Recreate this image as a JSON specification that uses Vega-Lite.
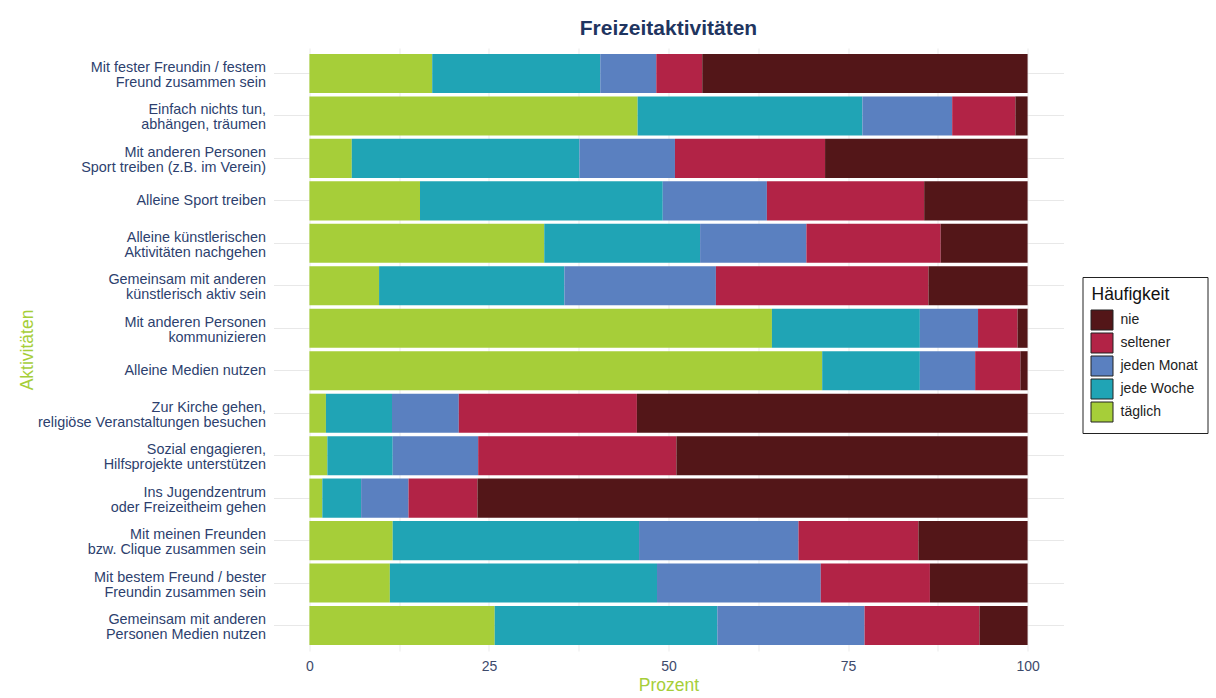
{
  "$schema": "https://vega.github.io/schema/vega-lite/v6.json",
  "width": 790,
  "height": 603,
  "padding": {"left": 18.5, "top": 18, "right": 5, "bottom": 0},
  "background": "white",
  "title": {"text": "Freizeitaktivitäten", "anchor": "middle", "frame": "group", "fontSize": 21, "font": "Liberation Sans", "fontWeight": "bold", "color": "#1f3560", "offset": 9},
  "config": {"view": {"stroke": null}, "font": "Liberation Sans"},
  "data": {"values": [
    {"a": "Mit fester Freundin / festem|Freund zusammen sein", "täglich": 17.1, "jede Woche": 23.4, "jeden Monat": 7.8, "seltener": 6.4, "nie": 45.3},
    {"a": "Einfach nichts tun,|abhängen, träumen", "täglich": 45.7, "jede Woche": 31.3, "jeden Monat": 12.5, "seltener": 8.8, "nie": 1.7},
    {"a": "Mit anderen Personen|Sport treiben (z.B. im Verein)", "täglich": 5.9, "jede Woche": 31.7, "jeden Monat": 13.3, "seltener": 20.9, "nie": 28.2},
    {"a": "Alleine Sport treiben", "täglich": 15.4, "jede Woche": 33.8, "jeden Monat": 14.5, "seltener": 21.9, "nie": 14.4},
    {"a": "Alleine künstlerischen|Aktivitäten nachgehen", "täglich": 32.7, "jede Woche": 21.7, "jeden Monat": 14.8, "seltener": 18.7, "nie": 12.1},
    {"a": "Gemeinsam mit anderen|künstlerisch aktiv sein", "täglich": 9.7, "jede Woche": 25.8, "jeden Monat": 21.1, "seltener": 29.6, "nie": 13.8},
    {"a": "Mit anderen Personen|kommunizieren", "täglich": 64.4, "jede Woche": 20.6, "jeden Monat": 8.1, "seltener": 5.5, "nie": 1.4},
    {"a": "Alleine Medien nutzen", "täglich": 71.4, "jede Woche": 13.6, "jeden Monat": 7.7, "seltener": 6.3, "nie": 1.0},
    {"a": "Zur Kirche gehen,|religiöse Veranstaltungen besuchen", "täglich": 2.3, "jede Woche": 9.2, "jeden Monat": 9.3, "seltener": 24.8, "nie": 54.4},
    {"a": "Sozial engagieren,|Hilfsprojekte unterstützen", "täglich": 2.5, "jede Woche": 9.1, "jeden Monat": 11.9, "seltener": 27.6, "nie": 48.9},
    {"a": "Ins Jugendzentrum|oder Freizeitheim gehen", "täglich": 1.8, "jede Woche": 5.4, "jeden Monat": 6.6, "seltener": 9.6, "nie": 76.6},
    {"a": "Mit meinen Freunden|bzw. Clique zusammen sein", "täglich": 11.6, "jede Woche": 34.3, "jeden Monat": 22.2, "seltener": 16.7, "nie": 15.2},
    {"a": "Mit bestem Freund / bester|Freundin zusammen sein", "täglich": 11.2, "jede Woche": 37.2, "jeden Monat": 22.8, "seltener": 15.2, "nie": 13.6},
    {"a": "Gemeinsam mit anderen|Personen Medien nutzen", "täglich": 25.8, "jede Woche": 31.0, "jeden Monat": 20.5, "seltener": 16.0, "nie": 6.7}
  ]},
  "transform": [
    {"fold": ["täglich", "jede Woche", "jeden Monat", "seltener", "nie"], "as": ["Häufigkeit", "Prozent"]},
    {"calculate": "indexof(['täglich','jede Woche','jeden Monat','seltener','nie'], datum['Häufigkeit'])", "as": "ord"}
  ],
  "mark": {"type": "bar", "stroke": null},
  "encoding": {
    "y": {
      "field": "a", "type": "nominal", "sort": null,
      "scale": {"paddingInner": 0.08, "paddingOuter": 0.14},
      "axis": {
        "title": "Aktivitäten", "titleColor": "#a6ce39", "titleFontSize": 17.5, "titleFontWeight": "normal", "titlePadding": 37,
        "labelExpr": "split(datum.label, '|')", "labelFontSize": 14.4, "labelColor": "#2d3f6e", "labelLineHeight": 15,
        "labelOffset": {"condition": {"test": "indexof(datum.value, '|') >= 0", "value": -5.5}, "value": 0},
        "labelPadding": 8, "ticks": false, "domain": false, "grid": true, "gridColor": "#e8e8e8", "gridWidth": 1.2,
        "bandPosition": 0.5, "labelLimit": 400
      }
    },
    "x": {
      "field": "Prozent", "type": "quantitative", "stack": "zero",
      "scale": {"domain": [-5, 105], "nice": false, "zero": false},
      "axis": {
        "title": "Prozent", "titleColor": "#a6ce39", "titleFontSize": 17.5, "titleFontWeight": "normal", "titlePadding": 3,
        "values": [0, 12.5, 25, 37.5, 50, 62.5, 75, 87.5, 100],
        "labelExpr": "datum.value % 25 == 0 ? datum.label : ''",
        "labelFontSize": 14, "labelColor": "#3d4a6b", "labelPadding": 8,
        "ticks": false, "domain": false, "grid": true, "gridColor": "#ebebeb", "gridWidth": 1
      }
    },
    "color": {
      "field": "Häufigkeit", "type": "nominal",
      "scale": {"domain": ["nie", "seltener", "jeden Monat", "jede Woche", "täglich"], "range": ["#531618", "#b22346", "#5a80c0", "#20a4b5", "#a6ce39"]},
      "legend": {
        "title": "Häufigkeit", "titleFontSize": 17.5, "titleFontWeight": "normal", "titleColor": "#111", "titlePadding": 6,
        "labelFontSize": 14, "labelColor": "#222", "labelOffset": 8, "symbolType": "M-1.1,-1H1.1V1H-1.1Z", "symbolSize": 400,
        "symbolStrokeColor": "#222", "symbolStrokeWidth": 1, "symbolOpacity": 1,
        "strokeColor": "#222", "padding": 9, "orient": "none", "legendX": 809, "legendY": 229, "rowPadding": -6,
        "direction": "vertical"
      }
    },
    "order": {"field": "ord", "type": "quantitative"}
  }
}
